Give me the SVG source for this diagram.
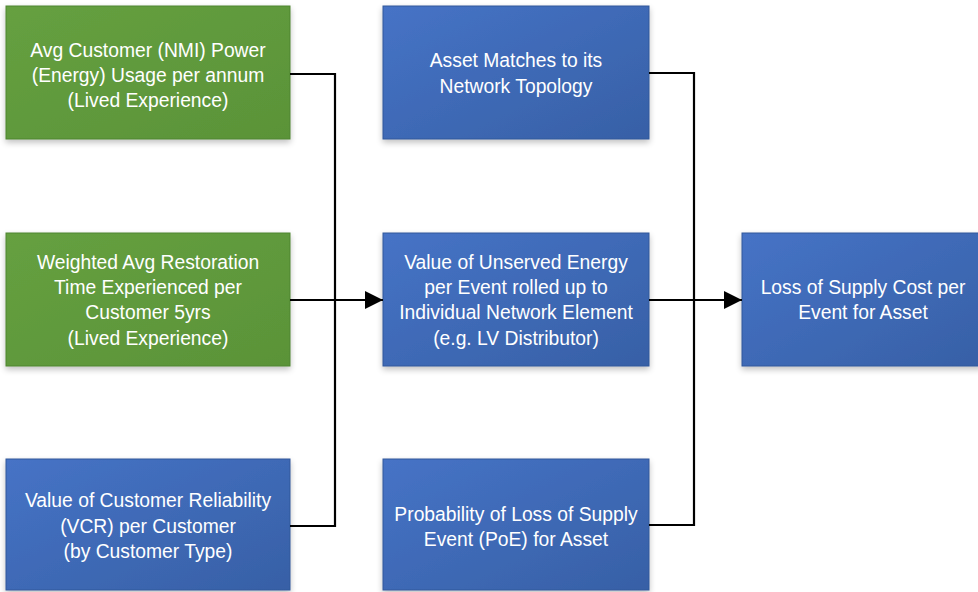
<svg xmlns="http://www.w3.org/2000/svg" width="978" height="592" viewBox="0 0 978 592">
<defs>
<linearGradient id="gG" x1="0" y1="0" x2="1" y2="1">
<stop offset="0" stop-color="#66A040"/><stop offset="1" stop-color="#5A9338"/>
</linearGradient>
<linearGradient id="gB" x1="0" y1="0" x2="1" y2="1">
<stop offset="0" stop-color="#4673C6"/><stop offset="1" stop-color="#3760A6"/>
</linearGradient>
<filter id="sh" x="-10%" y="-10%" width="125%" height="130%">
<feGaussianBlur in="SourceAlpha" stdDeviation="3"/>
<feOffset dx="0" dy="3" result="b"/>
<feComponentTransfer><feFuncA type="linear" slope="0.25"/></feComponentTransfer>
<feMerge><feMergeNode/><feMergeNode in="SourceGraphic"/></feMerge>
</filter>
<marker id="arr" markerWidth="18" markerHeight="18" refX="18" refY="9" orient="auto" markerUnits="userSpaceOnUse">
<path d="M0,0 L18,9 L0,18 Z" fill="#000"/>
</marker>
</defs>
<style>
.g{fill:url(#gG);stroke:#4E8530;stroke-width:1;filter:url(#sh)}
.b{fill:url(#gB);stroke:#30589A;stroke-width:1;filter:url(#sh)}
text{font-family:"Liberation Sans",Arial,sans-serif;font-size:19.3px;fill:#FFFFFF;text-anchor:middle}
.c{fill:none;stroke:#000;stroke-width:2.2}
</style>
<rect width="978" height="592" fill="#fff"/>
<g id="n1"><rect class="g" x="6" y="6" width="284" height="133"/>
<text x="148" y="57">Avg Customer (NMI) Power</text><text x="148" y="82">(Energy) Usage per annum</text><text x="148" y="107">(Lived Experience)</text></g>
<g id="n2"><rect class="g" x="6" y="233" width="284" height="133"/>
<text x="148" y="269">Weighted Avg Restoration</text><text x="148" y="294">Time Experienced per</text><text x="148" y="319">Customer 5yrs</text><text x="148" y="345">(Lived Experience)</text></g>
<g id="n3"><rect class="b" x="6" y="459" width="284" height="131"/>
<text x="148" y="507">Value of Customer Reliability</text><text x="148" y="533">(VCR) per Customer</text><text x="148" y="558">(by Customer Type)</text></g>
<g id="n4"><rect class="b" x="383" y="6" width="266" height="133"/>
<text x="516" y="67">Asset Matches to its</text><text x="516" y="93">Network Topology</text></g>
<g id="n5"><rect class="b" x="383" y="233" width="266" height="133"/>
<text x="516" y="269">Value of Unserved Energy</text><text x="516" y="294">per Event rolled up to</text><text x="516" y="319">Individual Network Element</text><text x="516" y="345">(e.g. LV Distributor)</text></g>
<g id="n6"><rect class="b" x="383" y="459" width="266" height="131"/>
<text x="516" y="521">Probability of Loss of Supply</text><text x="516" y="546">Event (PoE) for Asset</text></g>
<g id="n7"><rect class="b" x="742" y="233" width="240" height="133"/>
<text x="863" y="294">Loss of Supply Cost per</text><text x="863" y="319">Event for Asset</text></g>
<g id="connectors">
<path class="c" d="M290,74 H335 V526 H290"/>
<path class="c" d="M290,300 H383" marker-end="url(#arr)"/>
<path class="c" d="M649,73 H694 V525 H649"/>
<path class="c" d="M649,300 H742" marker-end="url(#arr)"/>
</g>
</svg>
